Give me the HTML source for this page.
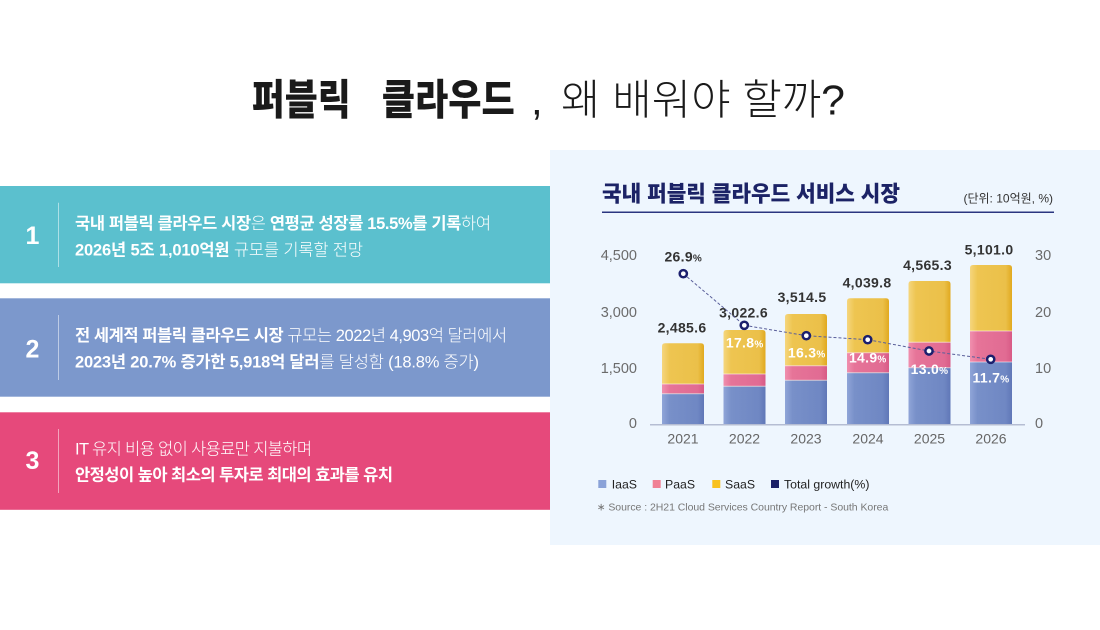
<!DOCTYPE html>
<html><head><meta charset="utf-8"><style>
html,body{margin:0;padding:0;background:#fff;}
svg{display:block;}
text{font-family:"Liberation Sans","Noto Sans CJK KR",sans-serif;}
</style></head><body>
<svg width="1100" height="630" viewBox="0 0 1100 630" xmlns="http://www.w3.org/2000/svg">
<defs>
<linearGradient id="gI" x1="0" x2="1" y1="0" y2="0">
<stop offset="0" stop-color="#90a5d8"/><stop offset="0.18" stop-color="#7890c9"/><stop offset="0.85" stop-color="#6f87c3"/><stop offset="1" stop-color="#6077b7"/></linearGradient>
<linearGradient id="gP" x1="0" x2="1" y1="0" y2="0">
<stop offset="0" stop-color="#f08fae"/><stop offset="0.18" stop-color="#e67498"/><stop offset="0.85" stop-color="#e16b93"/><stop offset="1" stop-color="#d85a86"/></linearGradient>
<linearGradient id="gS" x1="0" x2="1" y1="0" y2="0">
<stop offset="0" stop-color="#f5d67e"/><stop offset="0.18" stop-color="#eec551"/><stop offset="0.85" stop-color="#ebc049"/><stop offset="1" stop-color="#e1a91f"/></linearGradient>
</defs>

<!-- Title -->
<g fill="#1a1a1a" font-size="42">
<text x="251.7" y="114.4" font-weight="900" textLength="99" lengthAdjust="spacingAndGlyphs">퍼블릭</text>
<text x="381.7" y="114.4" font-weight="900" textLength="133" lengthAdjust="spacingAndGlyphs">클라우드</text>
<text x="531" y="114.4" font-weight="400">,</text>
<text x="561" y="114.4" font-weight="300" textLength="284" lengthAdjust="spacingAndGlyphs">왜 배워야 할까?</text>
</g>

<!-- Left boxes -->
<rect x="0" y="186" width="550" height="97.3" fill="#5bc0ce"/>
<rect x="0" y="298.3" width="550" height="98.4" fill="#7c98cc"/>
<rect x="0" y="412.3" width="550" height="97.5" fill="#e6497b"/>
<g stroke="rgba(255,255,255,0.5)" stroke-width="1">
<line x1="58.5" y1="202.7" x2="58.5" y2="267"/>
<line x1="58.5" y1="315" x2="58.5" y2="380"/>
<line x1="58.5" y1="429" x2="58.5" y2="493"/>
</g>
<g fill="#fff" font-size="25" font-weight="700" text-anchor="middle">
<text x="32.5" y="244">1</text>
<text x="32.5" y="357.3">2</text>
<text x="32.5" y="469">3</text>
</g>
<g fill="#fff" font-size="16.5">
<text x="75" y="228.8" textLength="416"><tspan font-weight="700">국내 퍼블릭 클라우드 시장</tspan><tspan font-weight="300">은 </tspan><tspan font-weight="700">연평균 성장률 15.5%를 기록</tspan><tspan font-weight="300">하여</tspan></text>
<text x="75" y="255.4" textLength="288"><tspan font-weight="700">2026년 5조 1,010억원</tspan><tspan font-weight="300"> 규모를 기록할 전망</tspan></text>
<text x="75" y="341.1" textLength="432"><tspan font-weight="700">전 세계적 퍼블릭 클라우드 시장</tspan><tspan font-weight="300"> 규모는 2022년 4,903억 달러에서</tspan></text>
<text x="75" y="367.7" textLength="404"><tspan font-weight="700">2023년 20.7% 증가한 5,918억 달러</tspan><tspan font-weight="300">를 달성함 (18.8% 증가)</tspan></text>
<text x="75" y="454.6" textLength="237"><tspan font-weight="300">IT 유지 비용 없이 사용료만 지불하며</tspan></text>
<text x="75" y="480.6" textLength="318"><tspan font-weight="700">안정성이 높아 최소의 투자로 최대의 효과를 유치</tspan></text>
</g>

<!-- Chart panel -->
<rect x="550" y="150" width="550" height="395" fill="#eef6fe"/>
<text x="602" y="201.7" font-size="22" font-weight="900" fill="#1c2366" textLength="298" lengthAdjust="spacingAndGlyphs">국내 퍼블릭 클라우드 서비스 시장</text>
<text x="1053" y="202.5" font-size="12" fill="#333" text-anchor="end">(단위: 10억원, %)</text>
<line x1="602" y1="212.3" x2="1054" y2="212.3" stroke="#2a3580" stroke-width="1.5"/>

<!-- axis labels -->
<g font-size="14.5" fill="#6b6b6b">
<g text-anchor="end">
<text x="637" y="260.2">4,500</text>
<text x="637" y="316.9">3,000</text>
<text x="637" y="372.9">1,500</text>
<text x="637" y="427.9">0</text>
</g>
<text x="1035" y="260.2">30</text>
<text x="1035" y="316.9">20</text>
<text x="1035" y="372.9">10</text>
<text x="1035" y="427.9">0</text>
</g>

<!-- bars -->
<g>
<path d="M662,424.5 V346.3 Q662,343.3 665,343.3 H701 Q704,343.3 704,346.3 V424.5 Z" fill="url(#gS)"/>
<rect x="662" y="384" width="42" height="9.7" fill="url(#gP)"/>
<rect x="662" y="393.7" width="42" height="30.8" fill="url(#gI)"/>

<path d="M723.5,424.5 V333 Q723.5,330 726.5,330 H762.5 Q765.5,330 765.5,333 V424.5 Z" fill="url(#gS)"/>
<rect x="723.5" y="374" width="42" height="12.3" fill="url(#gP)"/>
<rect x="723.5" y="386.3" width="42" height="38.2" fill="url(#gI)"/>

<path d="M785,424.5 V317 Q785,314 788,314 H824 Q827,314 827,317 V424.5 Z" fill="url(#gS)"/>
<rect x="785" y="365.7" width="42" height="14.6" fill="url(#gP)"/>
<rect x="785" y="380.3" width="42" height="44.2" fill="url(#gI)"/>

<path d="M847,424.5 V301.3 Q847,298.3 850,298.3 H886 Q889,298.3 889,301.3 V424.5 Z" fill="url(#gS)"/>
<rect x="847" y="352.7" width="42" height="20" fill="url(#gP)"/>
<rect x="847" y="372.7" width="42" height="51.8" fill="url(#gI)"/>

<path d="M908.5,424.5 V284 Q908.5,281 911.5,281 H947.5 Q950.5,281 950.5,284 V424.5 Z" fill="url(#gS)"/>
<rect x="908.5" y="342.3" width="42" height="25.4" fill="url(#gP)"/>
<rect x="908.5" y="367.7" width="42" height="56.8" fill="url(#gI)"/>

<path d="M970,424.5 V268 Q970,265 973,265 H1009 Q1012,265 1012,268 V424.5 Z" fill="url(#gS)"/>
<rect x="970" y="331" width="42" height="31" fill="url(#gP)"/>
<rect x="970" y="362" width="42" height="62.5" fill="url(#gI)"/>
</g>
<g stroke="rgba(255,255,255,0.55)" stroke-width="1">
<line x1="662" y1="384" x2="704" y2="384"/><line x1="662" y1="393.7" x2="704" y2="393.7"/>
<line x1="723.5" y1="374" x2="765.5" y2="374"/><line x1="723.5" y1="386.3" x2="765.5" y2="386.3"/>
<line x1="785" y1="365.7" x2="827" y2="365.7"/><line x1="785" y1="380.3" x2="827" y2="380.3"/>
<line x1="847" y1="352.7" x2="889" y2="352.7"/><line x1="847" y1="372.7" x2="889" y2="372.7"/>
<line x1="908.5" y1="342.3" x2="950.5" y2="342.3"/><line x1="908.5" y1="367.7" x2="950.5" y2="367.7"/>
<line x1="970" y1="331" x2="1012" y2="331"/><line x1="970" y1="362" x2="1012" y2="362"/>
</g>
<line x1="650" y1="424.8" x2="1025" y2="424.8" stroke="#b5bdd3" stroke-width="1.5"/>

<!-- year labels -->
<g font-size="14" fill="#666" text-anchor="middle">
<text x="683" y="443.3">2021</text>
<text x="744.5" y="443.3">2022</text>
<text x="806" y="443.3">2023</text>
<text x="868" y="443.3">2024</text>
<text x="929.5" y="443.3">2025</text>
<text x="991" y="443.3">2026</text>
</g>

<!-- value labels -->
<g font-size="14" font-weight="700" fill="#333" text-anchor="middle" letter-spacing="0.3">
<text x="682" y="332.3">2,485.6</text>
<text x="743.5" y="317.7">3,022.6</text>
<text x="802" y="302">3,514.5</text>
<text x="867" y="287.3">4,039.8</text>
<text x="927.5" y="270">4,565.3</text>
<text x="989" y="254.3">5,101.0</text>
</g>

<!-- growth line -->
<polyline points="683.3,273.7 744.3,325.3 806.3,335.7 867.7,339.7 929,351 990.7,359.3" fill="none" stroke="#5a5f9a" stroke-width="1" stroke-dasharray="3 2"/>
<g fill="#fff" stroke="#1b1f6e" stroke-width="2.5">
<circle cx="683.3" cy="273.7" r="3.6"/>
<circle cx="744.3" cy="325.3" r="3.6"/>
<circle cx="806.3" cy="335.7" r="3.6"/>
<circle cx="867.7" cy="339.7" r="3.6"/>
<circle cx="929" cy="351" r="3.6"/>
<circle cx="990.7" cy="359.3" r="3.6"/>
</g>

<!-- growth labels -->
<g font-size="14" font-weight="700" text-anchor="middle" letter-spacing="0.3">
<text x="683.3" y="261.7" fill="#333">26.9<tspan font-size="10">%</tspan></text>
<text x="744.7" y="347.3" fill="#fff">17.8<tspan font-size="10">%</tspan></text>
<text x="806.7" y="357.3" fill="#fff">16.3<tspan font-size="10">%</tspan></text>
<text x="867.8" y="362.7" fill="#fff">14.9<tspan font-size="10">%</tspan></text>
<text x="929.5" y="374" fill="#fff">13.0<tspan font-size="10">%</tspan></text>
<text x="991" y="382.3" fill="#fff">11.7<tspan font-size="10">%</tspan></text>
</g>

<!-- legend -->
<rect x="598.3" y="480" width="8" height="8" fill="#8aa2d8"/>
<rect x="652.7" y="480" width="8" height="8" fill="#f08094"/>
<rect x="712.3" y="480" width="8" height="8" fill="#f8c11e"/>
<rect x="771" y="480" width="8" height="8" fill="#1a1f66"/>
<g font-size="12.3" fill="#222">
<text x="611.7" y="488.3">IaaS</text>
<text x="665" y="488.3">PaaS</text>
<text x="725" y="488.3">SaaS</text>
<text x="784" y="488.3">Total growth(%)</text>
</g>
<text x="596.7" y="510.5" font-size="10.5" fill="#777" textLength="291.6">∗ Source : 2H21 Cloud Services Country Report - South Korea</text>
</svg>
</body></html>
